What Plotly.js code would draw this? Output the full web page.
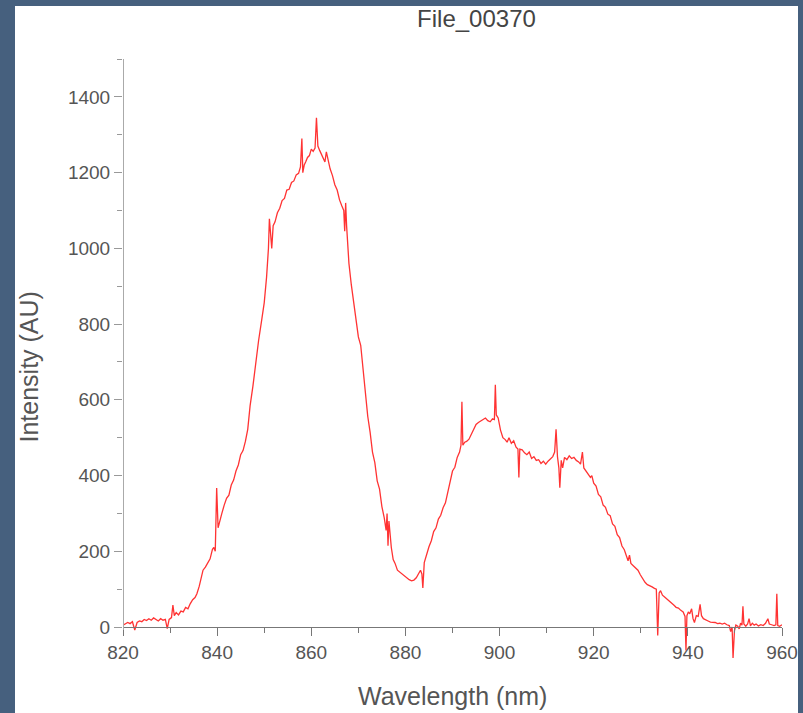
<!DOCTYPE html>
<html>
<head>
<meta charset="utf-8">
<script src="https://cdn.plot.ly/plotly-3.0.1.min.js"></script>
<style>
  html, body { margin: 0; padding: 0; background: #46607e; width: 803px; height: 713px; overflow: hidden; }
  #chart { position: absolute; left: 15px; top: 6px; width: 783px; height: 707px; background: #ffffff; }
</style>
</head>
<body>
<div id="chart"></div>
<script>
// Wavelength (nm) samples
const wavelength = [
  820, 820.5, 821, 821.5, 822, 822.5, 823, 823.5, 824, 824.5, 825, 825.5, 826, 826.5, 827, 827.5, 828, 828.5, 829, 829.4, 829.8,
  830.3, 830.6, 830.9, 831.3, 831.8, 832.3, 832.8, 833.3, 833.8, 834.3, 834.8, 835.3, 835.7, 836.2, 836.6, 837, 837.5, 838, 838.5,
  839, 839.3, 839.6, 839.9, 840.2, 840.6, 841, 841.5, 842, 842.5, 843, 843.5, 844, 844.5, 845, 845.5, 846, 846.5, 847, 847.6,
  848.2, 848.8, 849.5, 850, 850.5, 850.9, 851.1, 851.4, 851.6, 851.9, 852.3, 852.8, 853.3, 853.8, 854.3, 854.8, 855.3, 855.8,
  856.3, 856.8, 857.3, 857.7, 858, 858.2, 858.5, 858.8, 859.2, 859.6, 860, 860.4, 860.8, 861.1, 861.4, 861.8, 862.2, 862.6,
  862.9, 863.2, 863.6, 864, 864.5, 865, 865.5, 866, 866.5, 866.9, 867.1, 867.3, 867.5, 868, 868.5, 869, 869.5, 870, 870.5,
  871, 871.5, 872, 872.5, 873, 873.5, 874, 874.5, 875, 875.5, 875.9, 876.1, 876.3, 876.5, 877, 877.4, 877.8, 878.3, 878.8,
  879.3, 879.8, 880.3, 880.8, 881.3, 881.8, 882.3, 882.8, 883.2, 883.5, 883.7, 884, 884.4, 885, 885.5, 886, 886.5, 887, 887.5,
  888, 888.5, 889, 889.5, 890, 890.5, 891, 891.5, 891.8, 892, 892.2, 892.6, 893, 893.5, 894, 894.5, 895, 895.5, 896, 896.5,
  897, 897.5, 898, 898.5, 898.9, 899.1, 899.3, 899.7, 900.2, 900.7, 901.2, 901.6, 902, 902.5, 903, 903.5, 903.9, 904.1, 904.3,
  904.8, 905.3, 905.8, 906.3, 906.8, 907.3, 907.8, 908.3, 908.8, 909.3, 909.8, 910.3, 910.8, 911.3, 911.7, 912, 912.3, 912.6,
  912.8, 913.1, 913.4, 913.8, 914.3, 914.8, 915.3, 915.8, 916.3, 916.8, 917.2, 917.6, 917.9, 918.3, 918.8, 919.3, 919.6, 920,
  920.5, 921, 921.5, 922, 922.5, 923, 923.5, 924, 924.5, 925, 925.5, 926, 926.5, 927, 927.3, 927.6, 927.9, 928.4, 928.9, 929.4,
  929.9, 930.4, 930.9, 931.4, 931.9, 932.4, 932.9, 933.3, 933.6, 933.9, 934.2, 934.6, 935, 935.5, 936, 936.5, 937, 937.5, 938,
  938.5, 939, 939.4, 939.6, 939.8, 940.1, 940.4, 940.8, 941.1, 941.4, 941.8, 942.2, 942.6, 942.9, 943.3, 943.8, 944.3, 944.8,
  945.3, 945.8, 946.3, 946.8, 947.3, 947.8, 948.3, 948.8, 949.1, 949.4, 949.6, 949.9, 950.2, 950.6, 950.9, 951.2, 951.5, 951.7,
  951.9, 952.3, 952.7, 953, 953.3, 953.7, 954.1, 954.5, 955, 955.5, 956, 956.5, 957, 957.3, 957.8, 958.3, 958.7, 958.9, 959.1,
  959.5, 960
];
// Intensity (AU)
const intensity = [
  5, 8, 12, 9, 14, -8, 12, 16, 14, 20, 17, 22, 18, 24, 20, 16, 22, 18, 20, -4, 20,
  25, 58, 30, 38, 32, 42, 40, 52, 48, 62, 72, 78, 88, 108, 130, 150, 158, 170, 180,
  205, 210, 200, 367, 262, 285, 300, 322, 340, 348, 375, 388, 412, 428, 455, 466, 490, 522, 584, 636,
  704, 756, 814, 856, 924, 1000, 1078, 1040, 1000, 1060, 1070, 1094, 1106, 1126, 1132, 1154, 1156, 1174,
  1178, 1194, 1198, 1215, 1290, 1200, 1220, 1228, 1240, 1245, 1262, 1256, 1265, 1345, 1270, 1258, 1248, 1240,
  1228, 1255, 1230, 1210, 1192, 1168, 1154, 1128, 1112, 1100, 1045, 1120, 1060, 960, 904, 856, 814, 766, 744,
  676, 614, 556, 514, 462, 434, 386, 364, 318, 288, 255, 300, 215, 280, 210, 178, 168, 150, 145,
  138, 133, 128, 125, 122, 124, 130, 142, 150, 140, 103, 170, 188, 212, 228, 252, 262, 285, 295,
  315, 328, 358, 388, 412, 422, 448, 462, 480, 595, 480, 488, 490, 496, 510, 520, 535, 540, 545, 548,
  552, 545, 542, 550, 548, 640, 560, 552, 520, 500, 495, 488, 500, 485, 492, 475, 470, 395, 470,
  468, 460, 455, 462, 445, 450, 440, 442, 432, 438, 430, 438, 445, 450, 462, 522, 450, 420,
  368, 440, 420, 448, 442, 452, 445, 448, 440, 436, 430, 462, 420, 412, 405, 395, 400, 380,
  372, 350, 344, 322, 316, 298, 294, 272, 266, 244, 236, 214, 204, 183, 175, 190, 168, 162, 155, 150,
  138, 128, 118, 112, 110, 106, 102, 100, -22, 90, 96, 84, 80, 75, 68, 64, 58, 52, 50,
  44, 40, 28, -62, 30, 40, 35, 48, 22, 12, 30, 28, 60, 30, 22, 18, 16, 13,
  12, 12, 9, 10, 8, 10, 6, 4, -12, 0, -82, -10, 5, 2, -5, 10, 5, 55,
  8, 2, 8, 22, 3, 10, 5, 8, 3, 6, 4, 10, 22, 8, 6, 4, 6, 88, 4,
  2, 6
];
const chartTitle = "File_00370";
const xTitle = "Wavelength (nm)";
const yTitle = "Intensity (AU)";

const FONT = "Arial, 'Liberation Sans', sans-serif";

const trace = {
  type: "scatter",
  mode: "lines",
  x: wavelength,
  y: intensity,
  line: { color: "#ff3333", width: 1.3 },
  hoverinfo: "skip"
};

const yMin = -95, yMax = 1500;
const zeroFrac = (0 - yMin) / (yMax - yMin);

const layout = {
  width: 783,
  height: 707,
  margin: { l: 108, r: 16, t: 53, b: 50 },
  paper_bgcolor: "#ffffff",
  plot_bgcolor: "#ffffff",
  showlegend: false,
  font: { family: FONT, color: "#555555" },
  title: {
    text: chartTitle,
    font: { family: FONT, size: 24, color: "#444444" },
    x: 0.5364, xref: "paper", xanchor: "center",
    y: 0.9816, yref: "container", yanchor: "middle"
  },
  xaxis: {
    range: [820, 960],
    anchor: "free",
    position: zeroFrac,
    showgrid: false,
    zeroline: false,
    showline: true,
    linecolor: "#777777",
    linewidth: 1,
    ticks: "outside",
    ticklen: 8,
    tickcolor: "#777777",
    tick0: 820,
    dtick: 20,
    tickfont: { family: FONT, size: 19, color: "#555555" },
    minor: { ticks: "outside", ticklen: 5, dtick: 10, tick0: 820, tickcolor: "#777777" }
  },
  yaxis: {
    range: [yMin, yMax],
    showgrid: false,
    zeroline: false,
    showline: false,
    ticks: "outside",
    ticklen: 8,
    tickcolor: "#999999",
    tick0: 0,
    dtick: 200,
    tickfont: { family: FONT, size: 19, color: "#555555" },
    minor: { ticks: "outside", ticklen: 5, dtick: 100, tick0: 0, tickcolor: "#999999" }
  },
  shapes: [
    { type: "line", xref: "x", yref: "y", x0: 820, x1: 820, y0: -8, y1: yMax,
      line: { color: "#aaaaaa", width: 2 } }
  ],
  annotations: [
    { text: xTitle, xref: "paper", yref: "paper", x: 0.5, y: -0.0546,
      xanchor: "center", yanchor: "middle", showarrow: false,
      font: { family: FONT, size: 25, color: "#555555" } },
    { text: yTitle, xref: "paper", yref: "paper", x: -0.1419, y: 0.490,
      xanchor: "center", yanchor: "middle", showarrow: false, textangle: -90,
      font: { family: FONT, size: 25, color: "#555555" } }
  ]
};

Plotly.newPlot("chart", [trace], layout, { staticPlot: true, displayModeBar: false });
</script>
</body>
</html>
